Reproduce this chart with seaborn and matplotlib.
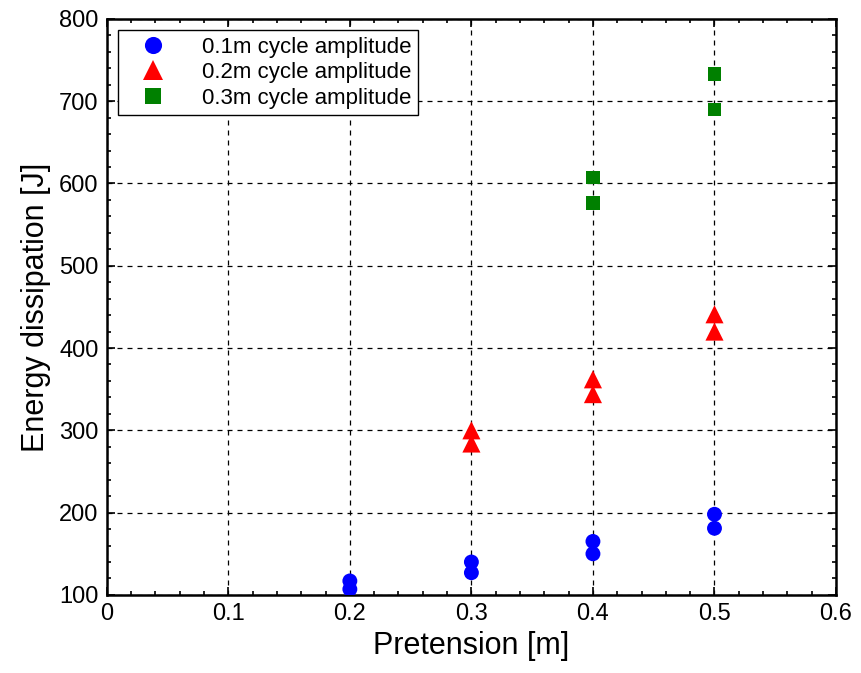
import matplotlib
matplotlib.use("Agg")
import matplotlib.pyplot as plt
from matplotlib.ticker import MultipleLocator, FormatStrFormatter
import seaborn as sns
import pandas as pd

# ------------------------------------------------------
# DATA
pretension_01 = [0.2, 0.2, 0.3, 0.3, 0.4, 0.4, 0.5, 0.5]
energy_01 = [117, 107, 140, 127, 165, 150, 198, 181]

pretension_02 = [0.3, 0.3, 0.4, 0.4, 0.5, 0.5]
energy_02 = [300, 284, 362, 344, 441, 420]

pretension_03 = [0.4, 0.4, 0.5, 0.5]
energy_03 = [607, 576, 733, 690]

labels = ["0.1m cycle amplitude", "0.2m cycle amplitude", "0.3m cycle amplitude"]
colors = ["blue", "red", "green"]
markers = ["o", "^", "s"]
marker_area = [115, 170, 95]

frames = []
for x, y, lab in zip([pretension_01, pretension_02, pretension_03],
                     [energy_01, energy_02, energy_03], labels):
    frames.append(pd.DataFrame({"Pretension": x, "Energy": y, "Series": lab}))
df = pd.concat(frames, ignore_index=True)

# ------------------------------------------------------
sns.set_style("ticks")
plt.rcParams['font.family'] = ['Liberation Sans', 'DejaVu Sans']
plt.rcParams['text.color'] = 'black'
plt.rcParams['axes.labelcolor'] = 'black'

fig = plt.figure(figsize=(8.61, 6.73), dpi=100)
ax = fig.add_axes([0.124, 0.116, 0.847, 0.856])

sns.scatterplot(data=df, x="Pretension", y="Energy", hue="Series", style="Series", size="Series",
                palette=dict(zip(labels, colors)), markers=dict(zip(labels, markers)),
                sizes=dict(zip(labels, marker_area)),
                edgecolor="none", linewidth=0, ax=ax, zorder=3)

ax.set_xlim(0, 0.6)
ax.set_ylim(100, 800)
ax.xaxis.set_major_locator(MultipleLocator(0.1))
ax.xaxis.set_minor_locator(MultipleLocator(0.02))
ax.xaxis.set_major_formatter(FormatStrFormatter("%g"))
ax.yaxis.set_major_locator(MultipleLocator(100))
ax.yaxis.set_minor_locator(MultipleLocator(20))
ax.tick_params(which="both", direction="in", top=True, right=True, width=1.2,
               colors="black", labelcolor="black")
ax.tick_params(which="major", length=6, labelsize=17, pad=6)
ax.tick_params(which="minor", length=3)
ax.grid(True, which="major", linestyle=(0, (4, 4)), color="black", linewidth=0.9)
for sp in ax.spines.values():
    sp.set_linewidth(1.8)
    sp.set_color("black")

ax.set_xlabel("Pretension [m]", fontsize=22, labelpad=4)
ax.set_ylabel("Energy dissipation [J]", fontsize=22, labelpad=6)

leg = ax.legend(loc="upper left", fontsize=16, frameon=True, fancybox=False,
                edgecolor="black", framealpha=1, borderpad=0.3, handletextpad=0.9,
                borderaxespad=0.5, labelspacing=0.2, markerscale=1.15, handlelength=2.6)
leg.get_frame().set_linewidth(1.0)

plt.savefig("out.png", dpi=100)
